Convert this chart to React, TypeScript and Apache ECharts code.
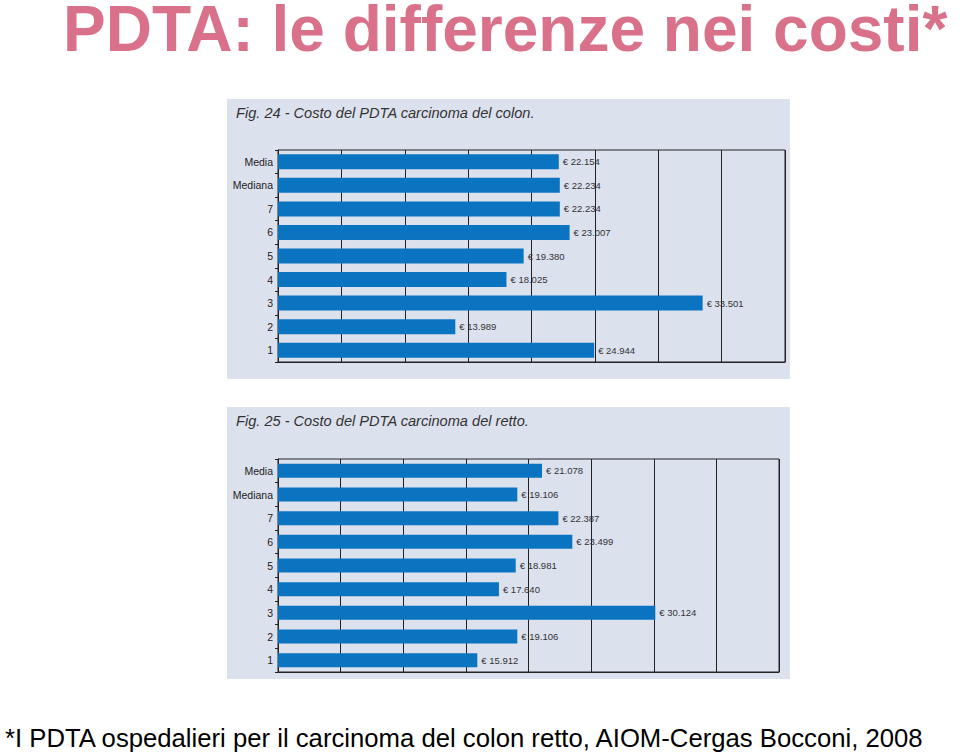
import React, { useEffect, useRef } from "react";
import * as echarts from "echarts";

const categories = ["Media", "Mediana", "7", "6", "5", "4", "3", "2", "1"];
const colonValues = [22154, 22234, 22234, 23007, 19380, 18025, 33501, 13989, 24944];
const rettoValues = [21078, 19106, 22387, 23499, 18981, 17640, 30124, 19106, 15912];
const axisMax = 40000;
const axisInterval = 5000;

const mainTitle = "PDTA: le differenze nei costi*";
const colonTitle = "Fig. 24 - Costo del PDTA carcinoma del colon.";
const rettoTitle = "Fig. 25 - Costo del PDTA carcinoma del retto.";
const footnote = "*I PDTA ospedalieri per il carcinoma del colon retto, AIOM-Cergas Bocconi, 2008";

const BAR = "#0a74c0";
const PANEL_BG = "#dce1ee";
const PINK = "#d9718a";
const FONT = "'Liberation Sans', Arial, sans-serif";
const NARROW = "'Liberation Sans Narrow', 'Liberation Sans', Arial, sans-serif";

const fmt = (v: number) => "€ " + String(v).replace(/\B(?=(\d{3})+(?!\d))/g, ".");

export default function App() {
  const ref = useRef<HTMLDivElement>(null);
  useEffect(() => {
    if (!ref.current) return;
    const chart = echarts.init(ref.current, null, { renderer: "svg" });
    const grids = [
      { left: 278, top: 150, width: 507, height: 212 },
      { left: 278, top: 459, width: 501, height: 213 },
    ];
    const xAxes = grids.map((_, i) => ({
      type: "value" as const,
      gridIndex: i,
      min: 0,
      max: axisMax,
      interval: axisInterval,
      axisLabel: { show: false },
      axisTick: { show: false },
      axisLine: { show: true, lineStyle: { color: "#222", width: 1 } },
      splitLine: { show: true, lineStyle: { color: "#222", width: 1 } },
    }));
    const yAxes = grids.map((_, i) => ({
      type: "category" as const,
      gridIndex: i,
      data: categories,
      inverse: true,
      axisLine: { show: true, lineStyle: { color: "#222", width: 1 } },
      axisTick: { show: true, length: 3, lineStyle: { color: "#222" } },
      axisLabel: { color: "#222", fontSize: 10.5, fontFamily: NARROW, margin: 5 },
      splitLine: { show: false },
    }));
    const mkSeries = (data: number[], i: number, bw: number) => ({
      type: "bar" as const,
      xAxisIndex: i,
      yAxisIndex: i,
      data,
      barWidth: bw,
      itemStyle: { color: BAR },
      label: {
        show: true,
        position: "right" as const,
        distance: 4,
        color: "#333",
        fontSize: 9.5,
        fontFamily: NARROW,
        formatter: (p: any) => fmt(p.value),
      },
    });
    chart.setOption({
      animation: false,
      backgroundColor: "#ffffff",
      grid: grids.map((g) => ({
        ...g,
        show: true,
        borderColor: "#222",
        borderWidth: 1,
        backgroundColor: "transparent",
      })),
      xAxis: xAxes,
      yAxis: yAxes,
      series: [mkSeries(colonValues, 0, 15), mkSeries(rettoValues, 1, 14)],
      graphic: [
        { type: "rect", z: -10, shape: { x: 227, y: 99, width: 563, height: 280 }, style: { fill: PANEL_BG } },
        { type: "rect", z: -10, shape: { x: 227, y: 407, width: 563, height: 272 }, style: { fill: PANEL_BG } },
        {
          type: "text",
          x: 63,
          y: 29,
          style: {
            text: mainTitle,
            fill: PINK,
            font: `bold 64px ${FONT}`,
            lineHeight: 52,
            textVerticalAlign: "middle",
          },
        },
        {
          type: "text",
          x: 236,
          y: 120,
          style: {
            text: colonTitle,
            fill: "#333",
            font: `italic 14.6px ${FONT}`,
            textVerticalAlign: "bottom",
          },
        },
        {
          type: "text",
          x: 236,
          y: 428,
          style: {
            text: rettoTitle,
            fill: "#333",
            font: `italic 14.6px ${FONT}`,
            textVerticalAlign: "bottom",
          },
        },
        {
          type: "text",
          x: 5,
          y: 751,
          style: {
            text: footnote,
            fill: "#000",
            font: `25.7px ${FONT}`,
            textVerticalAlign: "bottom",
          },
        },
      ],
    });
    return () => chart.dispose();
  }, []);
  return (
    <div
      ref={ref}
      style={{ position: "fixed", left: 0, top: 0, width: 960, height: 753 }}
    />
  );
}
